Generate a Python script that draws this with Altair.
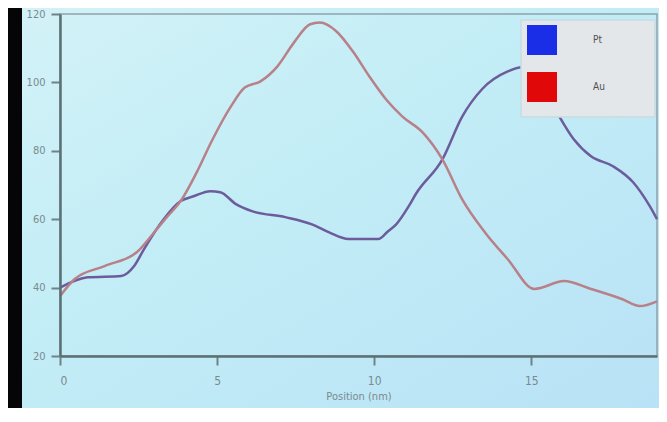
import altair as alt
import pandas as pd

# ---- data ----
pt_x = [0, 0.88, 1.95, 2.36, 2.67, 3.3, 3.84, 4.25, 4.78, 5.1, 5.6, 6.13, 7.17, 8.02,
        8.55, 9.18, 10.13, 10.44, 10.7, 11.1, 11.32, 12.17, 12.8, 13.43, 14.25, 14.7,
        15.1, 15.7, 16.35, 16.9, 17.6, 18.24, 18.77, 19.0]
pt_y = [40, 43, 43.4, 46.3, 51.2, 60, 65.3, 66.7, 68.2, 67.9, 64.4, 62.3, 60.6, 58.5,
        56.2, 54.2, 54.2, 56.5, 58.5, 63.8, 67.3, 77.5, 90, 98, 103.2, 104.4,
        102, 93, 83.4, 78.4, 75.5, 70.8, 63.8, 60]

au_x = [0, 0.47, 1.42, 2.45, 3.0, 3.4, 3.84, 4.4, 4.81, 5.44, 5.88, 6.38, 6.92, 7.45,
        7.96, 8.27, 8.8, 9.34, 9.84, 10.38, 10.9, 11.54, 12.17, 12.8, 13.52, 14.25,
        15.1, 16.04, 16.9, 17.9, 18.45, 19.0]
au_y = [37.5, 42.5, 46.3, 50.4, 56.2, 60.6, 65.3, 74.6, 82.5, 93, 98.5, 100.3, 104.7,
        111.7, 117, 117.5, 114.9, 108.8, 101.8, 95, 90, 85.4, 77.5, 65.8, 56.2, 48.3,
        39.6, 41.9, 39.6, 36.6, 34.6, 36]

series = ["Pt", "Au"]
line_colors = ["#6c5c9c", "#b88088"]
legend_colors = ["#1a2ee8", "#e00808"]
x_ticks = [0, 5, 10, 15]
y_ticks = [20, 40, 60, 80, 100, 120]

df = pd.concat([
    pd.DataFrame({"x": pt_x, "y": pt_y, "series": "Pt"}),
    pd.DataFrame({"x": au_x, "y": au_y, "series": "Au"}),
])
leg_df = pd.DataFrame({"element": series})

W, H = 597, 342
PL, PT, PR, PB = 52, 6, 2, 52

one = alt.Data(values=[{"a": 1}])

bg = alt.Chart(one).mark_rect(
    color={"gradient": "linear", "x1": 0, "y1": 0, "x2": 1, "y2": 1,
           "stops": [{"offset": 0, "color": "#d3f2f7"},
                     {"offset": 0.45, "color": "#c2edf6"},
                     {"offset": 1, "color": "#b9e2f6"}]}
).encode(x=alt.value(-PL), x2=alt.value(W + PR), y=alt.value(-PT), y2=alt.value(H + PB))

strip = alt.Chart(one).mark_rect(color="#050508").encode(
    x=alt.value(-PL), x2=alt.value(-PL + 14), y=alt.value(-PT), y2=alt.value(H + PB)
)

frame = alt.Chart(one).mark_rect(filled=False, stroke="#8ea3aa", strokeWidth=1.5).encode(
    x=alt.value(0), x2=alt.value(W), y=alt.value(0), y2=alt.value(H)
)

legend_box = alt.Chart(one).mark_rect(fill="#e3e7ea", stroke="#c9dbe2", strokeWidth=1.5).encode(
    x=alt.value(461), x2=alt.value(595), y=alt.value(6), y2=alt.value(103)
)

xs = alt.Scale(domain=[0, 19], nice=False)
ys = alt.Scale(domain=[20, 120], nice=False)

lines = alt.Chart(df).mark_line(strokeWidth=2.5, interpolate="monotone").encode(
    x=alt.X("x:Q", scale=xs, title="Position (nm)",
            axis=alt.Axis(values=x_ticks, grid=False, tickSize=9, labelPadding=10,
                          titlePadding=4, domainColor="#5b7075", domainWidth=2.5,
                          tickColor="#6f8388", tickWidth=2, labelColor="#7a8a90",
                          titleColor="#7a8a90", labelFontSize=12, titleFontSize=11,
                          labelFont="DejaVu Sans Condensed", titleFont="DejaVu Sans Condensed",
                          titleFontWeight="normal", zindex=1)),
    y=alt.Y("y:Q", scale=ys, title=None,
            axis=alt.Axis(values=y_ticks, grid=False, tickSize=9, labelPadding=6,
                          domainColor="#5b7075", domainWidth=2.5, tickColor="#6f8388",
                          tickWidth=2, labelColor="#7a8a90", labelFontSize=11,
                          labelFont="DejaVu Sans Condensed", zindex=1)),
    stroke=alt.Stroke("series:N", scale=alt.Scale(domain=series, range=line_colors), legend=None),
    detail="series:N",
)

legend_layer = alt.Chart(leg_df).mark_square(opacity=0, size=1).encode(
    x=alt.value(0), y=alt.value(0),
    fill=alt.Fill("element:N", scale=alt.Scale(domain=series, range=legend_colors),
                  legend=alt.Legend(title=None, orient="none", legendX=467, legendY=11,
                                    symbolType="square", symbolSize=900, symbolOpacity=1,
                                    symbolStrokeWidth=0, rowPadding=17, labelOffset=36,
                                    labelFontSize=10, labelColor="#505050",
                                    labelFont="DejaVu Sans Condensed",
                                    padding=0, zindex=2)),
)

chart = alt.layer(bg, strip, frame, lines, legend_box, legend_layer).properties(
    width=W, height=H,
    padding={"left": PL, "top": PT, "right": PR, "bottom": PB},
    autosize=alt.AutoSizeParams(type="none"),
    background="#c2ebf5",
).resolve_scale(fill="independent", stroke="independent").configure_view(stroke=None)

chart.save("out.html", embed_options={"renderer": "svg", "actions": False})
